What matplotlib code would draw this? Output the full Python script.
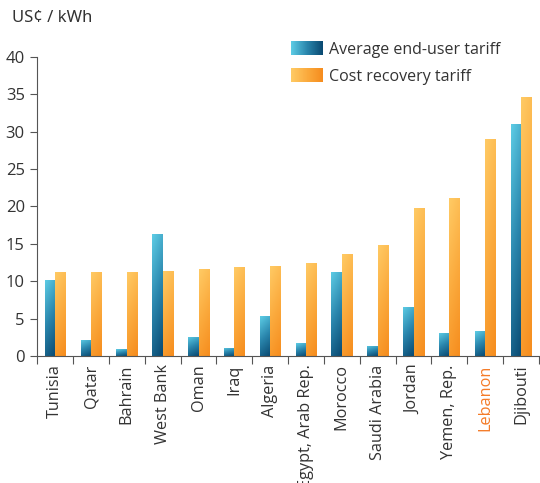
import numpy as np
import matplotlib.pyplot as plt
from matplotlib.colors import LinearSegmentedColormap
from matplotlib.legend_handler import HandlerBase
from matplotlib.image import BboxImage
from matplotlib.transforms import Bbox, TransformedBbox

plt.rcParams['font.family'] = ['Open Sans', 'DejaVu Sans']

# data (US cents / kWh)
countries = ['Tunisia', 'Qatar', 'Bahrain', 'West Bank', 'Oman', 'Iraq', 'Algeria',
             'Egypt, Arab Rep.', 'Morocco', 'Saudi Arabia', 'Jordan', 'Yemen, Rep.',
             'Lebanon', 'Djibouti']
avg_tariff = [10.2, 2.2, 0.9, 16.3, 2.6, 1.1, 5.3, 1.7, 11.3, 1.4, 6.6, 3.1, 3.3, 31.0]
cost_tariff = [11.3, 11.3, 11.3, 11.4, 11.6, 11.9, 12.1, 12.5, 13.7, 14.9, 19.8, 21.1, 29.0, 34.6]

blue_cmap = LinearSegmentedColormap.from_list('blue', ['#0a4a72', '#2a86ad', '#5ccbe4'])
orange_cmap = LinearSegmentedColormap.from_list('orange', ['#f68d1e', '#fbab3e', '#ffca64'])
text_color = '#333333'

fig = plt.figure(figsize=(5.4, 4.83), dpi=100)
ax = fig.add_axes([0.069, 0.263, 0.929, 0.619])

# diagonal gradient: light top-left to dark bottom-right
yy, xx = np.mgrid[0:1:64j, 0:1:8j]
grad = 0.8 * yy + 0.2 * (1 - xx)


def gradient_bars(xpos, heights, width, cmap):
    bars = ax.bar(xpos, heights, width=width, color='none', edgecolor='none')
    for b in bars:
        x0, y0 = b.get_x(), b.get_y()
        im = ax.imshow(grad, cmap=cmap, origin='lower', aspect='auto', vmin=0, vmax=1,
                       extent=[x0, x0 + b.get_width(), y0, y0 + b.get_height()],
                       interpolation='bilinear', zorder=2)
        im.set_clip_path(b)
    return bars


x = np.arange(len(countries))
w = 0.29
gradient_bars(x - w / 2, avg_tariff, w, blue_cmap)
gradient_bars(x + w / 2, cost_tariff, w, orange_cmap)

ax.set_xlim(-0.5, len(countries) - 0.5)
ax.set_ylim(0, 40)
ax.set_yticks(np.arange(0, 41, 5))
ax.set_xticks(np.arange(-0.5, len(countries), 1.0))
ax.set_xticklabels([])
ax.set_xticks(x, minor=True)
ax.set_xticklabels(countries, minor=True, rotation=90, fontsize=11.7, color=text_color)
ax.tick_params(axis='x', which='minor', length=0, pad=6)
ax.tick_params(axis='x', which='major', length=6, color='#555555')
ax.tick_params(axis='y', length=5, color='#555555', labelsize=12, labelcolor=text_color, pad=4)
for lbl in ax.get_xticklabels(minor=True):
    if lbl.get_text() == 'Lebanon':
        lbl.set_color('#f47b28')

for s in ['top', 'right']:
    ax.spines[s].set_visible(False)
ax.spines['left'].set_color('#555555')
ax.spines['bottom'].set_color('#555555')

fig.text(0.022, 0.962, 'US¢ / kWh', fontsize=12, color=text_color, va='center',
         family=['Noto Sans', 'DejaVu Sans'])


# legend patches with a horizontal gradient
class GradientHandler(HandlerBase):
    def __init__(self, cmap):
        super().__init__()
        self.cmap = cmap

    def create_artists(self, legend, orig_handle, xdescent, ydescent, width, height, fontsize, trans):
        bb = TransformedBbox(Bbox.from_bounds(-xdescent, -ydescent, width, height), trans)
        img = BboxImage(bb, cmap=self.cmap, norm=plt.Normalize(0, 1), interpolation='bilinear')
        img.set_data(np.linspace(1, 0, 32).reshape(1, -1))
        return [img]


h1 = plt.Rectangle((0, 0), 1, 1)
h2 = plt.Rectangle((0, 0), 1, 1)
leg = ax.legend([h1, h2], ['Average end-user tariff', 'Cost recovery tariff'],
                handler_map={h1: GradientHandler(blue_cmap), h2: GradientHandler(orange_cmap)},
                loc='upper left', bbox_to_anchor=(0.477, 1.1), frameon=False, fontsize=11.5,
                handlelength=1.95, handleheight=0.9, labelspacing=0.7, handletextpad=0.45)
for t in leg.get_texts():
    t.set_color(text_color)

fig.savefig('out.png', dpi=100)
